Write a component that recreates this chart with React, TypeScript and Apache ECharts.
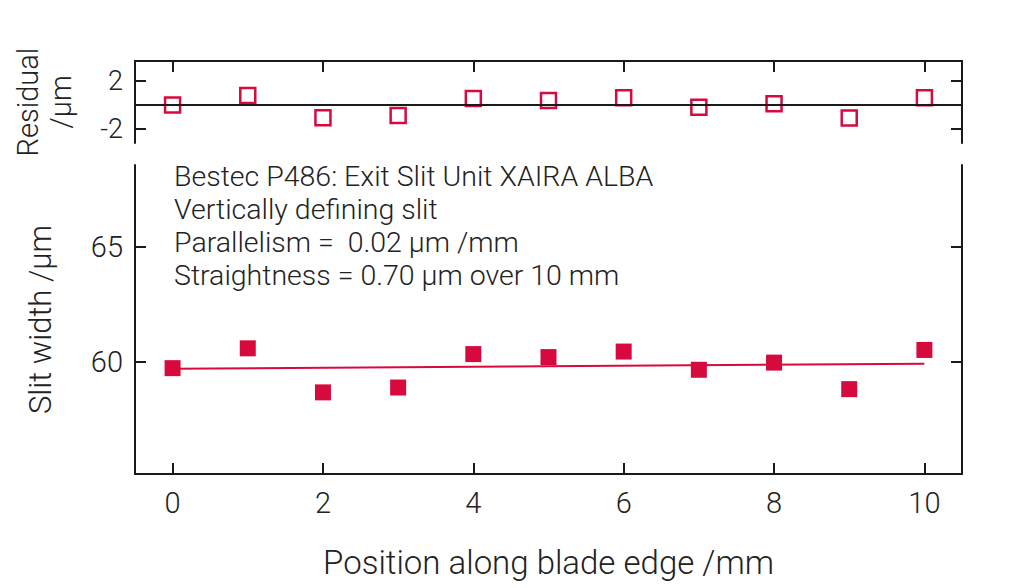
import React, { useEffect, useRef } from "react";
import * as echarts from "echarts";

const positions = [0, 1, 2, 3, 4, 5, 6, 7, 8, 9, 10];
const slitWidth = [59.74, 60.6, 58.69, 58.9, 60.35, 60.22, 60.46, 59.67, 59.98, 58.83, 60.53];
const residuals = [0.0, 0.8, -1.08, -0.88, 0.55, 0.38, 0.6, -0.2, 0.1, -1.1, 0.6];
const fitX = [0, 10];
const fitY = [59.71, 59.93];
const xTicks = [0, 2, 4, 6, 8, 10];
const mainYTicks = [60, 65];
const residYTicks = [-2, 2];
const annotationLines = [
  "Bestec P486: Exit Slit Unit XAIRA ALBA",
  "Vertically defining slit",
  "Parallelism =  0.02 µm /mm",
  "Straightness = 0.70 µm over 10 mm",
];

const RED = "#d70a3e";
const INK = "#1a1a1a";
const TXT = "#222";
const FONT = "Roboto, 'Liberation Sans', Arial, sans-serif";
const FW = 300;

export default function App() {
  const ref = useRef<HTMLDivElement>(null);
  useEffect(() => {
    if (!ref.current) return;
    const chart = echarts.init(ref.current, undefined, { renderer: "svg" });
    const line = { show: true, onZero: false, lineStyle: { color: INK, width: 2 } };
    const tick = (vals: number[]) => ({
      show: true,
      inside: true,
      length: 11,
      customValues: vals,
      lineStyle: { color: INK, width: 2 },
    });
    const lab = (vals: number[], size: number, margin: number) => ({
      customValues: vals,
      fontSize: size,
      color: TXT,
      margin,
      fontFamily: FONT,
      fontWeight: FW,
    });
    const option: any = {
      animation: false,
      textStyle: { fontFamily: FONT },
      grid: [
        { left: 135, top: 61, width: 827, height: 82, containLabel: false, outerBoundsMode: "none" },
        { left: 135, top: 165, width: 827, height: 309, containLabel: false, outerBoundsMode: "none" },
      ],
      xAxis: [
        {
          type: "value",
          gridIndex: 0,
          position: "top",
          min: -0.5,
          max: 10.5,
          axisLine: line,
          axisTick: tick(xTicks),
          axisLabel: { show: false },
          splitLine: { show: false },
        },
        {
          type: "value",
          gridIndex: 1,
          position: "bottom",
          min: -0.5,
          max: 10.5,
          axisLine: line,
          axisTick: tick(xTicks),
          axisLabel: lab(xTicks, 29, 14),
          splitLine: { show: false },
          name: "Position along blade edge /mm",
          nameLocation: "middle",
          nameGap: 72,
          nameTextStyle: { fontSize: 33, color: TXT, fontFamily: FONT, fontWeight: FW },
        },
      ],
      yAxis: [
        {
          type: "value",
          gridIndex: 0,
          position: "left",
          min: -3.2,
          max: 3.7,
          axisLine: line,
          axisTick: tick(residYTicks),
          axisLabel: lab(residYTicks, 27, 12),
          splitLine: { show: false },
          name: "Residual\n/µm",
          nameLocation: "middle",
          nameRotate: 90,
          nameGap: 58,
          nameTextStyle: { fontSize: 29, color: TXT, lineHeight: 33, fontFamily: FONT, fontWeight: FW },
        },
        {
          type: "value",
          gridIndex: 0,
          position: "right",
          min: -3.2,
          max: 3.7,
          axisLine: line,
          axisTick: tick(residYTicks),
          axisLabel: { show: false },
          splitLine: { show: false },
        },
        {
          type: "value",
          gridIndex: 1,
          position: "left",
          min: 55.15,
          max: 68.55,
          axisLine: line,
          axisTick: tick(mainYTicks),
          axisLabel: lab(mainYTicks, 29, 12),
          splitLine: { show: false },
          name: "Slit width /µm",
          nameLocation: "middle",
          nameRotate: 90,
          nameGap: 79,
          nameTextStyle: { fontSize: 31, color: TXT, fontFamily: FONT, fontWeight: FW },
        },
        {
          type: "value",
          gridIndex: 1,
          position: "right",
          min: 55.15,
          max: 68.55,
          axisLine: line,
          axisTick: tick(mainYTicks),
          axisLabel: { show: false },
          splitLine: { show: false },
        },
      ],
      graphic: [
        {
          type: "text",
          left: 174,
          top: 160,
          style: {
            text: annotationLines.join("\n"),
            fontSize: 28.5,
            lineHeight: 33,
            fill: TXT,
            fontFamily: FONT,
            fontWeight: FW,
          },
        },
      ],
      series: [
        {
          type: "scatter",
          xAxisIndex: 0,
          yAxisIndex: 0,
          symbol: "rect",
          symbolSize: 15,
          itemStyle: { color: "#fff", borderColor: RED, borderWidth: 2.5, opacity: 1 },
          data: positions.map((x, i) => [x, residuals[i]]),
          markLine: {
            silent: true,
            symbol: "none",
            label: { show: false },
            lineStyle: { color: INK, width: 2, type: "solid" },
            data: [{ yAxis: 0 }],
          },
          z: 3,
        },
        {
          type: "line",
          xAxisIndex: 1,
          yAxisIndex: 2,
          showSymbol: false,
          symbol: "none",
          lineStyle: { color: RED, width: 2 },
          data: fitX.map((x, i) => [x, fitY[i]]),
        },
        {
          type: "scatter",
          xAxisIndex: 1,
          yAxisIndex: 2,
          symbol: "rect",
          symbolSize: 16,
          itemStyle: { color: RED, opacity: 1 },
          data: positions.map((x, i) => [x, slitWidth[i]]),
        },
      ],
    };
    chart.setOption(option);
    return () => chart.dispose();
  }, []);
  return <div ref={ref} style={{ width: 1024, height: 588, position: "absolute", left: 0, top: 0 }} />;
}
